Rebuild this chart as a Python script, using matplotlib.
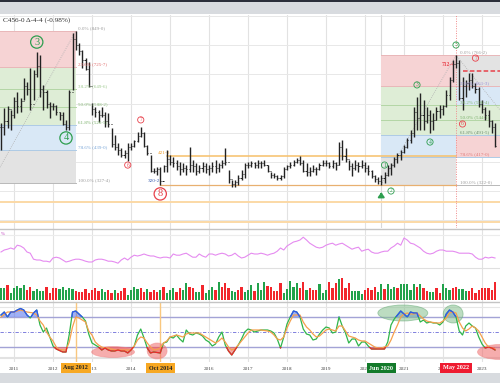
import numpy as np
import pandas as pd
import matplotlib
matplotlib.use('Agg')
import matplotlib.pyplot as plt
from matplotlib.patches import Ellipse, Rectangle
from matplotlib.lines import Line2D

plt.rcParams['font.family'] = ['Liberation Serif', 'DejaVu Serif']

# monthly bars, Sep 2010 .. Sep 2023
dates = pd.date_range('2010-09-01', periods=153, freq='MS')

hi = [533, 585, 592, 578, 622, 640, 619, 688, 674, 722,
      715, 777, 767, 664, 646, 605, 602, 595, 571, 571,
      544, 646, 842, 849, 808, 784, 756, 743, 602, 588,
      578, 588, 571, 568, 516, 492, 465, 448, 441, 465,
      465, 475, 502, 520, 502, 458, 423, 379, 382, 382,
      389, 441, 423, 417, 406, 399, 396, 389, 451, 406,
      396, 389, 399, 396, 389, 399, 406, 396, 406, 448,
      372, 338, 338, 355, 372, 396, 399, 403, 399, 406,
      403, 406, 389, 365, 362, 355, 355, 382, 389, 399,
      406, 413, 420, 406, 396, 382, 389, 382, 396, 406,
      406, 399, 406, 399, 468, 475, 448, 406, 396, 406,
      399, 406, 399, 389, 372, 355, 348, 355, 365, 389,
      396, 417, 430, 441, 458, 482, 509, 588, 622, 636,
      612, 588, 578, 568, 588, 595, 595, 646, 691, 749,
      766, 749, 691, 681, 705, 705, 671, 657, 612, 588,
      578, 544, 533]
lo = [441, 492, 516, 509, 550, 568, 571, 612, 629, 578,
      612, 691, 622, 578, 585, 550, 578, 561, 544, 526,
      509, 509, 646, 784, 767, 722, 715, 657, 561, 554,
      537, 554, 520, 520, 451, 441, 423, 417, 413, 403,
      441, 451, 468, 485, 451, 423, 365, 362, 355, 320,
      365, 365, 389, 382, 372, 355, 365, 355, 365, 365,
      355, 362, 365, 362, 355, 365, 362, 365, 379, 389,
      327, 314, 314, 320, 338, 345, 379, 382, 379, 379,
      379, 386, 365, 345, 345, 338, 338, 345, 372, 379,
      386, 396, 389, 365, 351, 351, 365, 355, 372, 386,
      386, 379, 379, 372, 389, 406, 399, 372, 351, 372,
      365, 379, 365, 355, 345, 331, 324, 322, 327, 351,
      355, 382, 396, 406, 430, 448, 465, 485, 509, 509,
      509, 533, 499, 509, 544, 550, 561, 588, 612, 674,
      722, 612, 578, 622, 646, 653, 636, 588, 568, 544,
      520, 499, 452]
cl = [520, 540, 580, 560, 610, 590, 610, 660, 650, 600,
      700, 730, 650, 640, 600, 590, 590, 570, 560, 530,
      520, 640, 820, 800, 780, 750, 720, 660, 580, 570,
      560, 560, 540, 530, 460, 450, 440, 425, 430, 450,
      455, 470, 490, 500, 455, 430, 370, 370, 375, 335,
      385, 410, 400, 395, 385, 375, 380, 375, 390, 385,
      370, 380, 385, 375, 380, 385, 380, 390, 395, 400,
      340, 325, 330, 345, 360, 390, 390, 395, 390, 395,
      395, 390, 370, 355, 350, 345, 350, 375, 385, 390,
      400, 405, 395, 370, 365, 370, 375, 375, 390, 395,
      395, 385, 395, 390, 450, 420, 410, 385, 380, 390,
      385, 390, 380, 370, 350, 340, 335, 345, 355, 380,
      390, 410, 425, 435, 450, 475, 500, 570, 550, 560,
      540, 560, 540, 545, 575, 580, 590, 630, 680, 735,
      740, 620, 660, 670, 680, 660, 650, 600, 580, 560,
      540, 520, 456]

vol = [12, 12, 15, 7, 12, 14, 12, 15, 10, 13,
       9, 11, 9, 9, 13, 7, 12, 12, 11, 13,
       10, 12, 11, 9, 8, 8, 11, 7, 10, 12,
       9, 11, 8, 10, 7, 10, 7, 9, 12, 5,
       10, 13, 11, 12, 8, 11, 8, 10, 8, 10,
       13, 7, 10, 12, 8, 12, 10, 17, 13, 12,
       8, 8, 15, 7, 10, 13, 10, 18, 13, 17,
       12, 9, 8, 10, 13, 8, 10,
       15, 9, 17, 10, 18, 14, 13, 9, 9, 17,
       7, 11, 19, 13, 17, 12, 18, 10, 12, 10,
       10, 16, 7, 10, 18, 12, 17, 21, 22, 12,
       17, 9, 9, 9, 6, 10, 12, 10, 13, 8,
       16, 11, 16, 11, 13, 12, 16, 16, 16, 10,
       16, 13, 16, 12, 9, 8, 8, 12, 7, 16,
       12, 10, 12, 13, 11, 11, 9, 9, 12, 7,
       10, 12, 12, 12, 10, 18]
vol_up = [1, 1, 0, 1, 1, 1, 1, 1, 0, 0,
          1, 1, 1, 1, 0, 0, 0, 0, 1, 1,
          1, 1, 1, 0, 0, 0, 0, 0, 0, 0,
          0, 1, 1, 0, 0, 1, 0, 0, 0, 1,
          1, 1, 1, 0, 0, 1, 0, 0, 0, 1,
          0, 1, 1, 1, 0, 0, 1, 1, 0, 0,
          1, 1, 0, 1, 1, 1, 0, 1, 0, 0,
          0, 1, 1, 0, 0, 1, 1,
          1, 0, 1, 1, 1, 0, 0, 0, 0, 0,
          1, 1, 1, 1, 1, 0, 0, 1, 0, 0,
          0, 1, 1, 1, 0, 0, 0, 1, 0, 0,
          0, 1, 1, 1, 1, 0, 0, 0, 0, 1,
          1, 0, 1, 1, 1, 0, 1, 1, 1, 1,
          1, 0, 1, 0, 0, 1, 1, 0, 0, 1,
          1, 1, 0, 0, 1, 1, 1, 0, 0, 0,
          0, 0, 0, 0, 0, 0]

rsi = [40, 45, 47, 50, 47, 57, 55, 50, 40, 37,
       22, 20, 20, 17, 17, 15, 25, 27, 25, 20,
       15, 17, 20, 22, 22, 20, 17, 15, 15, 20,
       22, 22, 20, 17, 17, 15, 12, 20, 25, 20,
       27, 32, 30, 32, 35, 32, 30, 30, 27, 25,
       27, 27, 25, 35, 32, 32, 35, 37, 32, 27,
       27, 35, 30, 27, 35, 35, 32, 35, 37, 35,
       30, 32, 37, 30, 25, 27, 32, 37, 35, 35,
       37, 35, 32, 35, 37, 42, 50, 45, 55, 60,
       65, 67, 70, 77, 70, 62, 57, 52, 50, 52,
       57, 60, 62, 57, 60, 62, 57, 52, 47, 50,
       52, 42, 45, 47, 40, 37, 37, 40, 42, 42,
       50, 55, 62, 57, 75, 70, 62, 60, 55, 50,
       42, 37, 35, 37, 42, 45, 45, 42, 42, 42,
       40, 37, 37, 37, 37, 35, 27, 22, 22, 27,
       25, 27, 25]

stk = [84, 90, 80, 90, 90, 94, 97, 94, 84, 78,
       88, 94, 64, 50, 58, 40, 22, 16, 13, 10,
       10, 45, 90, 92, 86, 80, 72, 46, 28, 24,
       20, 14, 18, 14, 12, 12, 14, 12, 12, 8,
       14, 22, 44, 56, 38, 18, 8, 10, 9, 8,
       28, 30, 40, 38, 44, 36, 30, 54, 46, 44,
       48, 46, 42, 34, 30, 22, 26, 40, 50, 24,
       12, 4, 14, 24, 36, 50, 56, 54, 50, 52,
       54, 54, 54, 52, 48, 36, 18, 40, 66, 80,
       92, 90, 80, 56, 46, 44, 34, 36, 46, 54,
       60, 58, 48, 50, 80, 62, 48, 28, 36, 36,
       22, 30, 30, 22, 16, 16, 16, 16, 16, 30,
       64, 76, 84, 92, 86, 80, 90, 88, 88, 70,
       74, 68, 70, 68, 68, 64, 70, 86, 94, 90,
       80, 52, 44, 62, 68, 62, 58, 40, 26, 18,
       20, 18, 14]
std = [80, 85, 90, 90, 90, 92, 94, 92, 90, 89,
       88, 84, 72, 64, 50, 40, 32, 20, 15, 14,
       14, 30, 60, 80, 78, 74, 70, 52, 44, 30,
       24, 20, 18, 18, 16, 14, 14, 14, 14, 14,
       14, 22, 34, 40, 38, 28, 20, 14, 15, 18,
       28, 32, 40, 42, 44, 42, 40, 46, 48, 48,
       48, 48, 44, 40, 36, 32, 28, 32, 38, 30,
       20, 14, 17, 24, 32, 40, 48, 54, 54, 54,
       54, 53, 52, 50, 44, 36, 34, 40, 58, 72,
       84, 84, 84, 70, 60, 54, 46, 40, 42, 48,
       54, 56, 54, 52, 62, 62, 52, 42, 40, 38,
       34, 32, 32, 28, 24, 20, 18, 18, 20, 22,
       34, 50, 64, 80, 86, 88, 86, 86, 88, 82,
       76, 72, 70, 69, 68, 68, 72, 78, 88, 90,
       88, 70, 58, 52, 56, 62, 58, 52, 40, 28,
       20, 18, 16]

# wave counts: bar index, price, label
wave_idx = [11, 20, 49, 43, 39, 140, 146, 142, 128, 132, 118, 120]
wave_p = [811, 482, 290, 544, 389, 801, 756, 530, 664, 468, 389, 300]
wave_txt = ['3', '4', '8', '7', '6', '5', '7', '6', '3', '4', '1', '2']
wave_big = [1, 1, 1, 0, 0, 0, 0, 0, 0, 0, 0, 0]
wave_red = [0, 0, 1, 1, 1, 0, 1, 1, 0, 0, 0, 0]

fib_ratios = [0.0, 0.236, 0.382, 0.5, 0.618, 0.786, 1.0]
fib_left = (849.0, 327.5)
fib_right = (766.25, 322.0)

years = list(range(2011, 2024))
events = ['Aug 2012', 'Oct 2014', 'Jun 2020', 'May 2022']
event_idx = [23, 49, 117, 140]

W, H = 500, 383
fig = plt.figure(figsize=(5, 3.83), dpi=100)


def box(left, top, right, bottom):
    return [left / W, 1 - bottom / H, (right - left) / W, (bottom - top) / H]


t = np.asarray(dates.year + (dates.month - 1) / 12.0, dtype=float)
x0, x1 = 2011 - 14 / 39, 2011 + 486 / 39
px = 1 / 39.0

# frame bands
fig.add_artist(Rectangle((0, 1 - 2 / H), 1, 2 / H, transform=fig.transFigure, color='#2b2f3a', lw=0))
fig.add_artist(Rectangle((0, 1 - 14 / H), 1, 12 / H, transform=fig.transFigure, color='#d8dbdf', lw=0))
fig.add_artist(Rectangle((0, 0), 1, 10 / H, transform=fig.transFigure, color='#d8dbdf', lw=0))

ax = fig.add_axes(box(0, 15, 500, 228))
axr = fig.add_axes(box(0, 228, 500, 268))
axv = fig.add_axes(box(0, 268, 500, 302))
axs = fig.add_axes(box(0, 302, 500, 362))
for a in (ax, axr, axv, axs):
    a.set_xlim(x0, x1)
    for s in a.spines.values():
        s.set_visible(False)
    a.set_yticks([])
    a.set_xticks([])
    a.patch.set_alpha(0)
    for y in years:
        a.axvline(y, color='#e2e2e2', lw=0.8, zorder=0)

for y in (228.5, 302):
    fig.add_artist(Line2D([0, 1], [1 - y / H] * 2, transform=fig.transFigure, color='#c4c4c4', lw=1))
fig.add_artist(Line2D([0, 1], [1 - 267.5 / H] * 2, transform=fig.transFigure, color='#e0e0e0', lw=0.8))

# ---- main price panel
ax.set_ylim(173.0, 903.9)
for p in range(200, 901, 100):
    ax.axhline(p, color='#e8e8e8', lw=0.7, zorder=0)
ax.axvline(t[117], color='#d8d8d8', lw=0.8, zorder=0)

red, green, blue, gray = '#f6d3d4', '#deedd6', '#d9e8f6', '#e3e3e3'


def fib_bands(xa, xb, p0, p100, bands):
    for r0, r1, c in bands:
        pa = p0 - r0 * (p0 - p100)
        pb = p0 - r1 * (p0 - p100)
        ax.add_patch(Rectangle((xa, pb), xb - xa, pa - pb, color=c, lw=0, zorder=0.5))


std_bands = [(0, 0.236, red), (0.236, 0.618, green), (0.618, 0.786, blue), (0.786, 1.0, gray)]
fib_bands(x0, t[23], *fib_left, std_bands)
fib_bands(t[117], t[140], *fib_right, std_bands)
fib_bands(t[140], x1, *fib_right,
          [(0, 0.236, gray), (0.236, 0.382, blue), (0.382, 0.618, green), (0.618, 0.786, red)])

line_cols = ['#e9b7b9', '#e9b7b9', '#b3d6a5', '#b3d6a5', '#aecbe6', '#aecbe6', '#b8b8b8']
txt_left = ['#9a9a9a', '#e06a6a', '#9cc88c', '#86b876', '#79b069', '#7aa6d8', '#9a9a9a']
txt_right = ['#9a9a9a', '#9a8fd8', '#86b876', '#79b069', '#6a8a6a', '#e07a7a', '#9a9a9a']


def fib_levels(xa, xb, p0, p100, tx, cols, labels=True):
    for r, lc, tc in zip(fib_ratios, line_cols, cols):
        p = p0 - r * (p0 - p100)
        ax.plot([xa, xb], [p, p], color=lc, lw=0.7, zorder=0.6)
        if labels:
            s = '%.1f%% (%d-%d)' % (r * 100, int(p), int((p - int(p)) * 8))
            ax.text(tx, p + 3, s, fontsize=3.6, color=tc, ha='left', va='bottom', zorder=5)


fib_levels(x0, t[23], *fib_left, t[23] + 2.5 * px, txt_left)
fib_levels(t[117], t[140], *fib_right, 0, txt_left, labels=False)
fib_levels(t[140], x1, *fib_right, t[140] + 3.5 * px, txt_right)

# anchors of the fib tools
ax.plot([2010 + 5 / 12, t[23]], [327.5, 849], color='#b0b0b0', lw=0.6, ls=(0, (1, 1.5)), zorder=1)
ax.plot([t[117], t[140]], [322, 766.25], color='#b0b0b0', lw=0.6, ls=(0, (1, 1.5)), zorder=1)
ax.plot([t[140], x1], [766.25, 578], color='#b0b0b0', lw=0.6, ls=(0, (1, 1.5)), zorder=1)

# support / resistance
ax.plot([t[51], t[140]], [421, 421], color='#f7c06a', lw=1.1, zorder=1)
ax.plot([t[49], t[140]], [320.25, 320.25], color='#e8b070', lw=0.9, zorder=1)
ax.axhline(263, color='#fbd9a6', lw=1.4, zorder=1)
ax.axhline(195, color='#fbd9a6', lw=1.4, zorder=1)
ax.text(t[49] - 2 * px, 432, '421-0', fontsize=3.8, color='#f0a030', ha='left', va='center')
ax.text(t[49] - 0.5 * px, 335, '320-2', fontsize=3.8, color='#3a5db0', ha='right', va='center')
ax.plot([t[142], x1], [712.5, 712.5], color='#e8404a', lw=1.1, ls=(0, (3, 1.5)), zorder=2)
ax.text(t[140] - 1 * px, 735, '712-4', fontsize=4, color='#e8404a', ha='right', va='center',
        fontweight='bold')
ax.axvline(t[140], color='#f08a8a', lw=0.7, ls=(0, (1, 1.5)), zorder=1)

# OHLC bars
op = [cl[0]] + cl[:-1]
ax.vlines(t, lo, hi, color='#222222', lw=1.0, zorder=3)
ax.hlines(cl, t, t + 1.0 * px, color='#222222', lw=0.7, zorder=3)
ax.hlines(op, t - 1.0 * px, t, color='#222222', lw=0.7, zorder=3)

# wave labels
for i, p, s, big, isred in zip(wave_idx, wave_p, wave_txt, wave_big, wave_red):
    c = '#e8414b' if isred else '#2e9e4f'
    ax.scatter([t[i]], [p], s=78 if big else 20, facecolors='none', edgecolors=c,
               linewidths=0.9 if big else 0.6, zorder=6)
    ax.text(t[i], p, s, fontsize=7.5 if big else 4, color=c, ha='center', va='center', zorder=6)

ax.annotate('', xy=(t[117], 305), xytext=(t[117], 278),
            arrowprops=dict(arrowstyle='-|>,head_width=0.18,head_length=0.25', color='#2e9e4f', lw=1.4))

ax.text(3 / W, 1 - 5 / 213, 'C456-0 \u0394-4-4 (-0.98%)', transform=ax.transAxes,
        fontsize=5.2, color='#333333', ha='left', va='center')

# ---- pink oscillator
axr.set_ylim(0, 100)
axr.axhline(82, color='#ececec', lw=0.8, zorder=0)
axr.plot(t, rsi, color='#e58bf0', lw=0.8)
axr.text(1 / W, 0.85, '%', transform=axr.transAxes, fontsize=3.5, color='#c040c0', va='center')

# ---- volume
axv.set_ylim(-2, 32)
vcol = ['#22a24b' if u else '#f2262c' for u in vol_up]
axv.bar(t, vol, width=2.3 * px, color=vcol, lw=0)

# ---- stochastics
axs.set_ylim(-10, 110)
k = np.array(stk, dtype=float)
d = np.array(std, dtype=float)
axs.axhline(100, color='#e6e6e6', lw=0.8, zorder=0)
axs.axhline(1, color='#e2e2e2', lw=0.8, zorder=0)
axs.axhline(-2, color='#e2e2e2', lw=0.8, zorder=0)
axs.axhline(80, color='#a3a3d6', lw=1.0, zorder=1)
axs.axhline(20, color='#a3a3d6', lw=1.0, zorder=1)
axs.axhline(50, color='#6b6bd8', lw=0.6, ls=(0, (4, 2, 1, 2)), zorder=1)
for i in event_idx[:2]:
    axs.axvline(t[i], color='#f9c77f', lw=1.0, zorder=1)

axs.fill_between(t, k, 80, where=k > 80, interpolate=True, color='#5270f0', alpha=0.55, lw=0, zorder=2)
axs.fill_between(t, k, 20, where=k < 20, interpolate=True, color='#f03a3a', alpha=0.45, lw=0, zorder=2)

ell_t = [2013.54, 2014.67, 2023.46, 2020.97, 2022.26]
ell_v = [10, 12, 10, 88, 86]
ell_w = [1.1, 0.51, 1.15, 1.28, 0.51]
ell_h = [22, 32, 30, 32, 36]
ell_red = [1, 1, 1, 0, 0]
for et, ev, ew, eh, er in zip(ell_t, ell_v, ell_w, ell_h, ell_red):
    fc = '#f06a6a' if er else '#86c08f'
    ec = '#f08a8a' if er else '#62a872'
    axs.add_patch(Ellipse((et, ev), ew, eh, facecolor=fc, edgecolor=ec, alpha=0.55, lw=0.6, zorder=2))

axs.plot(t, k, color='#2fb54b', lw=0.9, zorder=3)
axs.plot(t, d, color='#f5a04c', lw=0.9, zorder=3)
hi_line, = axs.plot(t, k, color='#3050f5', lw=0.9, zorder=4)
hi_line.set_clip_path(Rectangle((x0, 80), x1 - x0, 40, transform=axs.transData))
lo_line, = axs.plot(t, k, color='#f0262b', lw=0.9, zorder=4)
lo_line.set_clip_path(Rectangle((x0, -20), x1 - x0, 40, transform=axs.transData))

axs.set_xticks(years)
axs.set_xticklabels([str(y) for y in years], fontsize=3.8, color='#444444')
axs.tick_params(axis='x', length=0, pad=3.5)

ev_face = ['#f7a823', '#f7a823', '#137a2a', '#ee1b30']
ev_text = ['#222222', '#222222', 'white', 'white']
for s, i, fc, tc in zip(events, event_idx, ev_face, ev_text):
    axs.text(t[i], -22, s, fontsize=4.4, fontweight='bold', color=tc, ha='center', va='center',
             clip_on=False, zorder=10,
             bbox=dict(boxstyle='square,pad=0.45', facecolor=fc, edgecolor='none'))

fig.savefig('out.png', dpi=100)
